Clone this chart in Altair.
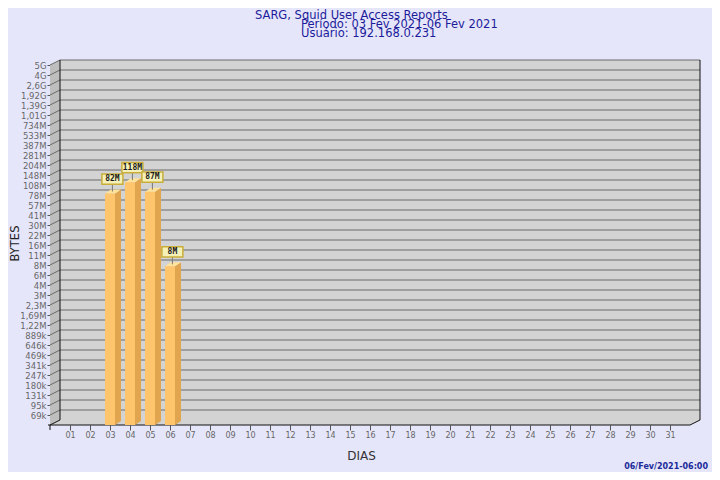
import altair as alt
import numpy as np
import pandas as pd

# ---------------- data ----------------
days = list(range(1, 32))
bar_days = [3, 4, 5, 6]
bar_bytes = [82e6, 118e6, 87e6, 8e6]
bar_labels = ["82M", "118M", "87M", "8M"]
y_tick_labels = ["69k", "95k", "131k", "180k", "247k", "341k", "469k", "646k", "889k",
                 "1,22M", "1,69M", "2,3M", "3M", "4M", "6M", "8M", "11M", "16M", "22M",
                 "30M", "41M", "57M", "78M", "108M", "148M", "204M", "281M", "387M",
                 "533M", "734M", "1,01G", "1,39G", "1,92G", "2,6G", "4G", "5G"]
title_lines = ["SARG, Squid User Access Reports",
               "Período: 03 Fev 2021-06 Fev 2021",
               "Usuário: 192.168.0.231"]
footer_text = "06/Fev/2021-06:00"

# ---------------- scale definition (log-like level scale) ----------------
V0 = 50100.0          # bytes at the floor
RATIO = 1.3767        # ratio between consecutive gridlines
N_LEVELS = len(y_tick_labels)
X_MAX = 32

# style
BG = "#E6E6FA"
WALL = "#D3D3D3"
SIDE = "#BEBEBE"
GRID = "#6A6A6A"
EDGE = "#111111"
FRONT = "#FFC56C"
SIDEF = "#E0A54E"
TOPF = "#FFE39A"
BOXF = "#F4F0B8"
BOXS = "#C9AE3A"
TITLE_C = "#1C1C9A"
DX, DY = 0.5, 0.5          # frame depth in data units (10px, 5px)
BH, BDX, BDY = 0.25, 0.3, 0.4  # bar half width, bar depth

xs = alt.Scale(domain=[0, X_MAX], nice=False, zero=False)
ys = alt.Scale(domain=[0, N_LEVELS], nice=False, zero=False)

bars = pd.DataFrame({"day": bar_days, "bytes": bar_bytes, "label": bar_labels})
bars["level"] = np.log(bars["bytes"] / V0) / np.log(RATIO)

# ---------------- axes layer ----------------
label_array = "[" + ",".join("'" + s + "'" for s in y_tick_labels) + "]"
n = max(len(days), N_LEVELS)
axis_df = pd.DataFrame({"day": (days * 2)[:n], "level": list(range(1, N_LEVELS + 1))[:n]})
axes_layer = alt.Chart(axis_df).mark_point(opacity=0).encode(
    x=alt.X("day:Q", scale=xs, axis=alt.Axis(
        values=days, title="DIAS", domain=False, grid=False, tickSize=5, tickColor="#555",
        labelExpr="datum.value < 10 ? '0' + datum.value : '' + datum.value",
        labelFont="DejaVu Sans", labelFontSize=8, labelColor="#666", labelPadding=1,
        titleFont="DejaVu Sans", titleFontSize=12, titleFontWeight="normal", titleColor="#333",
        titleX=311, titleY=30, titleBaseline="middle", titleAlign="center")),
    y=alt.Y("level:Q", scale=ys, axis=alt.Axis(
        values=list(range(1, N_LEVELS + 1)), labelExpr=label_array + "[datum.value - 1]",
        domain=False, grid=False, tickSize=3, tickColor="#555",
        labelFont="DejaVu Sans", labelFontSize=8.5, labelColor="#666", labelPadding=1,
        title="BYTES", titleFont="DejaVu Sans", titleFontSize=11.5, titleFontWeight="normal",
        titleColor="#222", titleAngle=270, titleX=-35, titleY=178,
        titleAlign="center", titleBaseline="middle")),
)

# ---------------- frame ----------------
wall_df = pd.DataFrame({"x0": [DX], "x1": [X_MAX + DX], "y0": [DY], "y1": [N_LEVELS + DY]})
back_wall = alt.Chart(wall_df).mark_rect(color=WALL).encode(
    x=alt.X("x0:Q", scale=xs, axis=None), x2="x1:Q",
    y=alt.Y("y0:Q", scale=ys, axis=None), y2="y1:Q",
)

side_df = pd.DataFrame({"x": [0, DX], "y": [N_LEVELS, N_LEVELS + DY], "y2": [0, DY]})
side_wall = alt.Chart(side_df).mark_area(color=SIDE).encode(
    x=alt.X("x:Q", scale=xs, axis=None), y=alt.Y("y:Q", scale=ys, axis=None), y2="y2:Q")

floor_df = pd.DataFrame({"x": [0, DX, X_MAX, X_MAX + DX], "y": [0, DY, DY, DY], "y2": [0, 0, 0, DY]})
floor = alt.Chart(floor_df).mark_area(color=WALL).encode(
    x=alt.X("x:Q", scale=xs, axis=None), y=alt.Y("y:Q", scale=ys, axis=None), y2="y2:Q")

levels = pd.DataFrame({"level": list(range(1, N_LEVELS + 1))})
levels["x0"] = 0.0
levels["xb"] = DX
levels["xe"] = X_MAX + DX
levels["lb"] = levels["level"] + DY

grid = alt.Chart(levels).mark_rule(color=GRID, strokeWidth=1).encode(
    x=alt.X("xb:Q", scale=xs, axis=None), x2="xe:Q",
    y=alt.Y("lb:Q", scale=ys, axis=None),
)
connectors = alt.Chart(levels).mark_rule(color=GRID, strokeWidth=1).encode(
    x=alt.X("x0:Q", scale=xs, axis=None), x2="xb:Q",
    y=alt.Y("level:Q", scale=ys, axis=None), y2="lb:Q",
)

edges_df = pd.DataFrame({
    "x": [DX, X_MAX + DX, -0.1, 0, X_MAX, 0],
    "x2": [DX, X_MAX + DX, X_MAX, DX, X_MAX + DX, 0],
    "y": [DY, DY, 0, 0, 0, 0],
    "y2": [N_LEVELS + DY, N_LEVELS + DY, 0, DY, DY, -0.5],
})
edges = alt.Chart(edges_df).mark_rule(color=EDGE, strokeWidth=1).encode(
    x=alt.X("x:Q", scale=xs, axis=None), x2="x2:Q",
    y=alt.Y("y:Q", scale=ys, axis=None), y2="y2:Q")

# ---------------- bars ----------------
side_rows, top_rows = [], []
for _, r in bars.iterrows():
    d, L = r["day"], r["level"]
    side_rows += [dict(bar=d, x=d + BH, y=L, y2=0.0),
                  dict(bar=d, x=d + BH + BDX, y=L + BDY, y2=BDY)]
    top_rows += [dict(bar=d, x=d - BH, y=L, y2=L),
                 dict(bar=d, x=d - BH + BDX, y=L + BDY, y2=L),
                 dict(bar=d, x=d + BH, y=L + BDY, y2=L),
                 dict(bar=d, x=d + BH + BDX, y=L + BDY, y2=L + BDY)]
side_faces = alt.Chart(pd.DataFrame(side_rows)).mark_area(color=SIDEF).encode(
    x=alt.X("x:Q", scale=xs, axis=None), y=alt.Y("y:Q", scale=ys, axis=None), y2="y2:Q",
    detail="bar:N")
top_faces = alt.Chart(pd.DataFrame(top_rows)).mark_area(color=TOPF).encode(
    x=alt.X("x:Q", scale=xs, axis=None), y=alt.Y("y:Q", scale=ys, axis=None), y2="y2:Q",
    detail="bar:N")

bars["xl"] = bars["day"] - BH
bars["xr"] = bars["day"] + BH
bars["zero"] = 0.0
bars["cx"] = bars["day"] + 0.12
bars["bx0"] = bars["cx"] - 0.525
bars["bx1"] = bars["cx"] + 0.525
bars["stem0"] = bars["level"] + 0.2
bars["by0"] = bars["level"] + 0.93
bars["by1"] = bars["level"] + 1.96
bars["ty"] = bars["level"] + 1.43

front_faces = alt.Chart(bars).mark_rect(color=FRONT).encode(
    x=alt.X("xl:Q", scale=xs, axis=None), x2="xr:Q",
    y=alt.Y("zero:Q", scale=ys, axis=None), y2="level:Q")
stems = alt.Chart(bars).mark_rule(color="#777", strokeWidth=1).encode(
    x=alt.X("cx:Q", scale=xs, axis=None),
    y=alt.Y("stem0:Q", scale=ys, axis=None), y2="by0:Q")
boxes = alt.Chart(bars).mark_rect(fill=BOXF, stroke=BOXS, strokeWidth=1.5).encode(
    x=alt.X("bx0:Q", scale=xs, axis=None), x2="bx1:Q",
    y=alt.Y("by0:Q", scale=ys, axis=None), y2="by1:Q")
box_text = alt.Chart(bars).mark_text(font="DejaVu Sans Mono", fontWeight="bold", fontSize=8,
                                     color="#1a1a1a", baseline="middle", align="center").encode(
    x=alt.X("cx:Q", scale=xs, axis=None),
    y=alt.Y("ty:Q", scale=ys, axis=None), text="label:N")

# ---------------- texts ----------------
def text_layer(txt, x, y, **kw):
    return alt.Chart(pd.DataFrame({"t": [txt]})).mark_text(**kw).encode(
        x=alt.value(x), y=alt.value(y), text="t:N")

TF = dict(font="DejaVu Sans", fontSize=11.5, color=TITLE_C, align="left", baseline="alphabetic")
t1 = text_layer(title_lines[0], 205, -46, **TF)
t2 = text_layer(title_lines[1], 251, -37, **TF)
t3 = text_layer(title_lines[2], 251, -28, **TF)
foot = text_layer(footer_text, 658, 401.7, font="DejaVu Sans", fontSize=8, fontWeight="bold",
                  color="#1A2A99", align="right", baseline="middle")

chart = alt.layer(
    axes_layer, back_wall, side_wall, floor, grid, connectors, edges,
    side_faces, top_faces, front_faces, stems, boxes, box_text,
    t1, t2, t3, foot,
).resolve_axis(x="independent", y="independent").properties(
    width=640, height=360,
    autosize=alt.AutoSizeParams(type="none"),
    padding={"left": 42, "top": 57, "right": 22, "bottom": 47},
).configure(background=BG).configure_view(stroke=None)

chart.save("out.html", embed_options={"renderer": "svg", "actions": False})
